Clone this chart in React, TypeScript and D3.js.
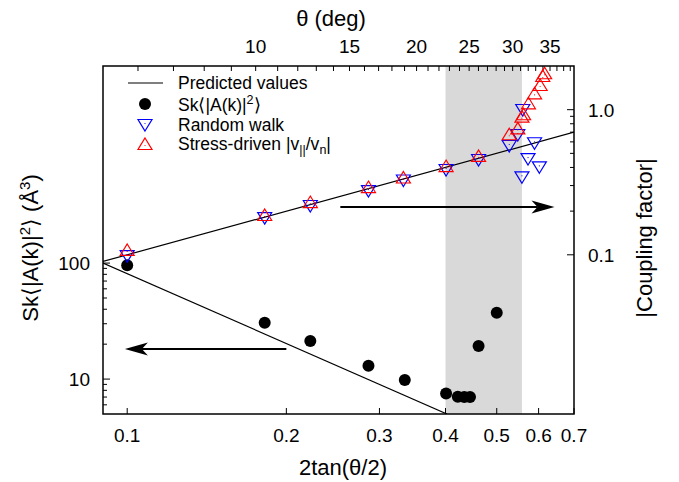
import React from "react";
import * as d3 from "d3";

// ---------- data ----------
const xTickVals = [0.1, 0.2, 0.3, 0.4, 0.5, 0.6, 0.7];
const xTickLabels = ["0.1", "0.2", "0.3", "0.4", "0.5", "0.6", "0.7"];
const thetaMajor = [10, 15, 20, 25, 30, 35];
const thetaMinor = [6, 7, 8, 9, 10, 11, 12, 13, 14, 15, 16, 17, 18, 19, 20, 21, 22, 23, 24, 25, 26, 27, 28, 29, 30, 31, 32, 33, 34, 35, 36, 37, 38];
const leftMajor = [10, 100];
const leftMajorLabels = ["10", "100"];
const leftMinor = [6, 7, 8, 9, 20, 30, 40, 50, 60, 70, 80, 90];
const rightMajor = [0.1, 1.0];
const rightMajorLabels = ["0.1", "1.0"];
const rightMinor = [0.2, 0.3, 0.4, 0.5, 0.6, 0.7, 0.8, 0.9];

// Sk<|A(k)|^2> (left axis)
const skX = [0.1, 0.182, 0.222, 0.286, 0.335, 0.401, 0.422, 0.434, 0.445, 0.462, 0.5];
const skY = [96, 30.6, 21.3, 13.0, 9.8, 7.5, 7.05, 7.0, 7.0, 19.3, 37.3];

// Random walk (right axis)
const rwX = [0.1, 0.182, 0.222, 0.286, 0.333, 0.401, 0.462, 0.528, 0.548, 0.558, 0.56, 0.573, 0.5895, 0.602];
const rwY = [0.098, 0.179, 0.217, 0.275, 0.325, 0.384, 0.45, 0.562, 0.669, 0.342, 0.995, 0.457, 0.587, 0.401];

// Stress-driven (right axis)
const sdX = [0.1, 0.182, 0.222, 0.286, 0.333, 0.401, 0.462, 0.528, 0.548, 0.558, 0.562, 0.574, 0.5895, 0.604, 0.611, 0.616];
const sdY = [0.108, 0.188, 0.231, 0.293, 0.341, 0.409, 0.48, 0.677, 0.744, 0.895, 0.93, 1.107, 1.297, 1.48, 1.707, 1.782];

// Predicted lines (end points)
const predLeftX = [0.09, 0.4025];
const predLeftY = [100, 5];
const predRightX = [0.09, 0.7];
const predRightY = [0.09, 0.7];

// Shaded band
const bandX = [0.4, 0.558];

// Arrows
const arrowRightX = [0.253, 0.643];
const arrowRightY = [0.2136, 0.2136];
const arrowLeftX = [0.2, 0.099];
const arrowLeftY = [18.2, 18.2];

// ---------- layout ----------
const W = 679, H = 482;
const L = 103, R = 574, T = 66, B = 414;
const FONT = "'Liberation Sans', Arial, Helvetica, sans-serif";

const x = d3.scaleLog().domain([0.09, 0.7]).range([L, R]);
const yL = d3.scaleLog().domain([5, 5000]).range([B, T]);
const yR = d3.scaleLog().domain([0.008, 2]).range([B, T]);
const thetaToX = (deg: number) => 2 * Math.tan((deg / 2) * Math.PI / 180);

function UpTri({ cx, cy }: { cx: number; cy: number }) {
  return (
    <g>
      <path d={`M${cx},${cy - 6}L${cx + 7},${cy + 5.5}L${cx - 7},${cy + 5.5}Z`} fill="none" stroke="#ff0000" strokeWidth={1.2} />
      <circle cx={cx} cy={cy + 1.5} r={0.6} fill="#ff0000" />
    </g>
  );
}
function DownTri({ cx, cy }: { cx: number; cy: number }) {
  return (
    <g>
      <path d={`M${cx},${cy + 6}L${cx + 7},${cy - 5.5}L${cx - 7},${cy - 5.5}Z`} fill="none" stroke="#0000ff" strokeWidth={1.2} />
      <circle cx={cx} cy={cy - 1.5} r={0.6} fill="#0000ff" />
    </g>
  );
}

function Arrow({ x1, y1, x2, y2 }: { x1: number; y1: number; x2: number; y2: number }) {
  const ang = Math.atan2(y2 - y1, x2 - x1);
  const len = 23, hw = 6.5, notch = 17;
  const ux = Math.cos(ang), uy = Math.sin(ang);
  const px = -uy, py = ux;
  const bx = x2 - ux * len, by = y2 - uy * len;
  const nx = x2 - ux * notch, ny = y2 - uy * notch;
  return (
    <g>
      <line x1={x1} y1={y1} x2={nx} y2={ny} stroke="#000" strokeWidth={2} />
      <path d={`M${x2},${y2}L${bx + px * hw},${by + py * hw}L${nx},${ny}L${bx - px * hw},${by - py * hw}Z`} fill="#000" />
    </g>
  );
}

export default function App() {
  const line = (xs: number[], ys: number[], ys2: (v: number) => number) =>
    d3.line<number>().x((_, i) => x(xs[i])).y((_, i) => ys2(ys[i]))(xs.map((_, i) => i)) || "";

  return (
    <svg width={W} height={H} style={{ position: "absolute", left: 0, top: 0, background: "#fff" }} fontFamily={FONT}>
      <defs>
        <clipPath id="plot">
          <rect x={L} y={T} width={R - L} height={B - T} />
        </clipPath>
      </defs>
      <rect x={0} y={0} width={W} height={H} fill="#fff" />
      {/* shaded band */}
      <rect x={x(bandX[0])} y={T} width={x(bandX[1]) - x(bandX[0])} height={B - T} fill="#d9d9d9" />

      {/* ticks bottom */}
      {xTickVals.map((v, i) => (
        <g key={"xb" + i}>
          <line x1={x(v)} x2={x(v)} y1={B} y2={B - 6} stroke="#000" strokeWidth={1} />
          <text x={x(v)} y={442} fontSize={19} textAnchor="middle">{xTickLabels[i]}</text>
        </g>
      ))}
      {/* ticks top */}
      {thetaMinor.map((d, i) => (
        <line key={"tm" + i} x1={x(thetaToX(d))} x2={x(thetaToX(d))} y1={T} y2={T + 5} stroke="#000" strokeWidth={1} />
      ))}
      {thetaMajor.map((d, i) => (
        <text key={"tl" + i} x={x(thetaToX(d))} y={53} fontSize={19} textAnchor="middle">{d}</text>
      ))}
      {/* left ticks */}
      {leftMinor.map((v, i) => (
        <line key={"lm" + i} x1={L} x2={L + 4} y1={yL(v)} y2={yL(v)} stroke="#000" strokeWidth={1} />
      ))}
      {leftMajor.map((v, i) => (
        <g key={"lM" + i}>
          <line x1={L} x2={L + 7} y1={yL(v)} y2={yL(v)} stroke="#000" strokeWidth={1} />
          <text x={90} y={yL(v) + 7} fontSize={19} textAnchor="end">{leftMajorLabels[i]}</text>
        </g>
      ))}
      {/* right ticks */}
      {rightMinor.map((v, i) => (
        <line key={"rm" + i} x1={R} x2={R - 4} y1={yR(v)} y2={yR(v)} stroke="#000" strokeWidth={1} />
      ))}
      {rightMajor.map((v, i) => (
        <g key={"rM" + i}>
          <line x1={R} x2={R - 7} y1={yR(v)} y2={yR(v)} stroke="#000" strokeWidth={1} />
          <text x={588} y={yR(v) + 7} fontSize={19} textAnchor="start">{rightMajorLabels[i]}</text>
        </g>
      ))}

      <g clipPath="url(#plot)">
        <path d={line(predLeftX, predLeftY, yL)} stroke="#000" strokeWidth={1.2} fill="none" />
        <path d={line(predRightX, predRightY, yR)} stroke="#000" strokeWidth={1.2} fill="none" />
        {skX.map((v, i) => (
          <circle key={"sk" + i} cx={x(v)} cy={yL(skY[i])} r={6} fill="#000" />
        ))}
        {rwX.map((v, i) => (
          <DownTri key={"rw" + i} cx={x(v)} cy={yR(rwY[i])} />
        ))}
        {sdX.map((v, i) => (
          <UpTri key={"sd" + i} cx={x(v)} cy={yR(sdY[i])} />
        ))}
      </g>

      {/* arrows */}
      <Arrow x1={x(arrowRightX[0])} y1={yR(arrowRightY[0])} x2={x(arrowRightX[1])} y2={yR(arrowRightY[1])} />
      <Arrow x1={x(arrowLeftX[0])} y1={yL(arrowLeftY[0])} x2={x(arrowLeftX[1])} y2={yL(arrowLeftY[1])} />

      {/* frame */}
      <rect x={L} y={T} width={R - L} height={B - T} fill="none" stroke="#000" strokeWidth={1.5} />

      {/* legend */}
      <line x1={128} x2={163} y1={83} y2={83} stroke="#000" strokeWidth={1.2} />
      <text x={178} y={88.5} fontSize={17.5}>Predicted values</text>
      <circle cx={145} cy={104} r={6} fill="#000" />
      <text x={178} y={111} fontSize={17.5}>
        Sk⟨|A(k)|<tspan dy={-7} fontSize={12.5}>2</tspan><tspan dy={7}>⟩</tspan>
      </text>
      <DownTri cx={145} cy={125} />
      <text x={178} y={130.5} fontSize={17.5}>Random walk</text>
      <UpTri cx={145} cy={144} />
      <text x={178} y={150} fontSize={17.5}>
        Stress-driven |v<tspan dy={4} fontSize={12.5}>||</tspan><tspan dy={-4}>/v</tspan><tspan dy={4} fontSize={12.5}>n</tspan><tspan dy={-4}>|</tspan>
      </text>

      {/* axis titles */}
      <text x={331} y={26} fontSize={22} textAnchor="middle">θ (deg)</text>
      <text x={343} y={475} fontSize={22} textAnchor="middle">2tan(θ/2)</text>
      <text transform="translate(38,248) rotate(-90)" fontSize={22} textAnchor="middle">
        Sk⟨|A(k)|<tspan dy={-8} fontSize={15}>2</tspan><tspan dy={8}>⟩ (Å</tspan><tspan dy={-8} fontSize={15}>3</tspan><tspan dy={8}>)</tspan>
      </text>
      <text transform="translate(652,238) rotate(-90)" fontSize={22} textAnchor="middle">|Coupling factor|</text>
    </svg>
  );
}
